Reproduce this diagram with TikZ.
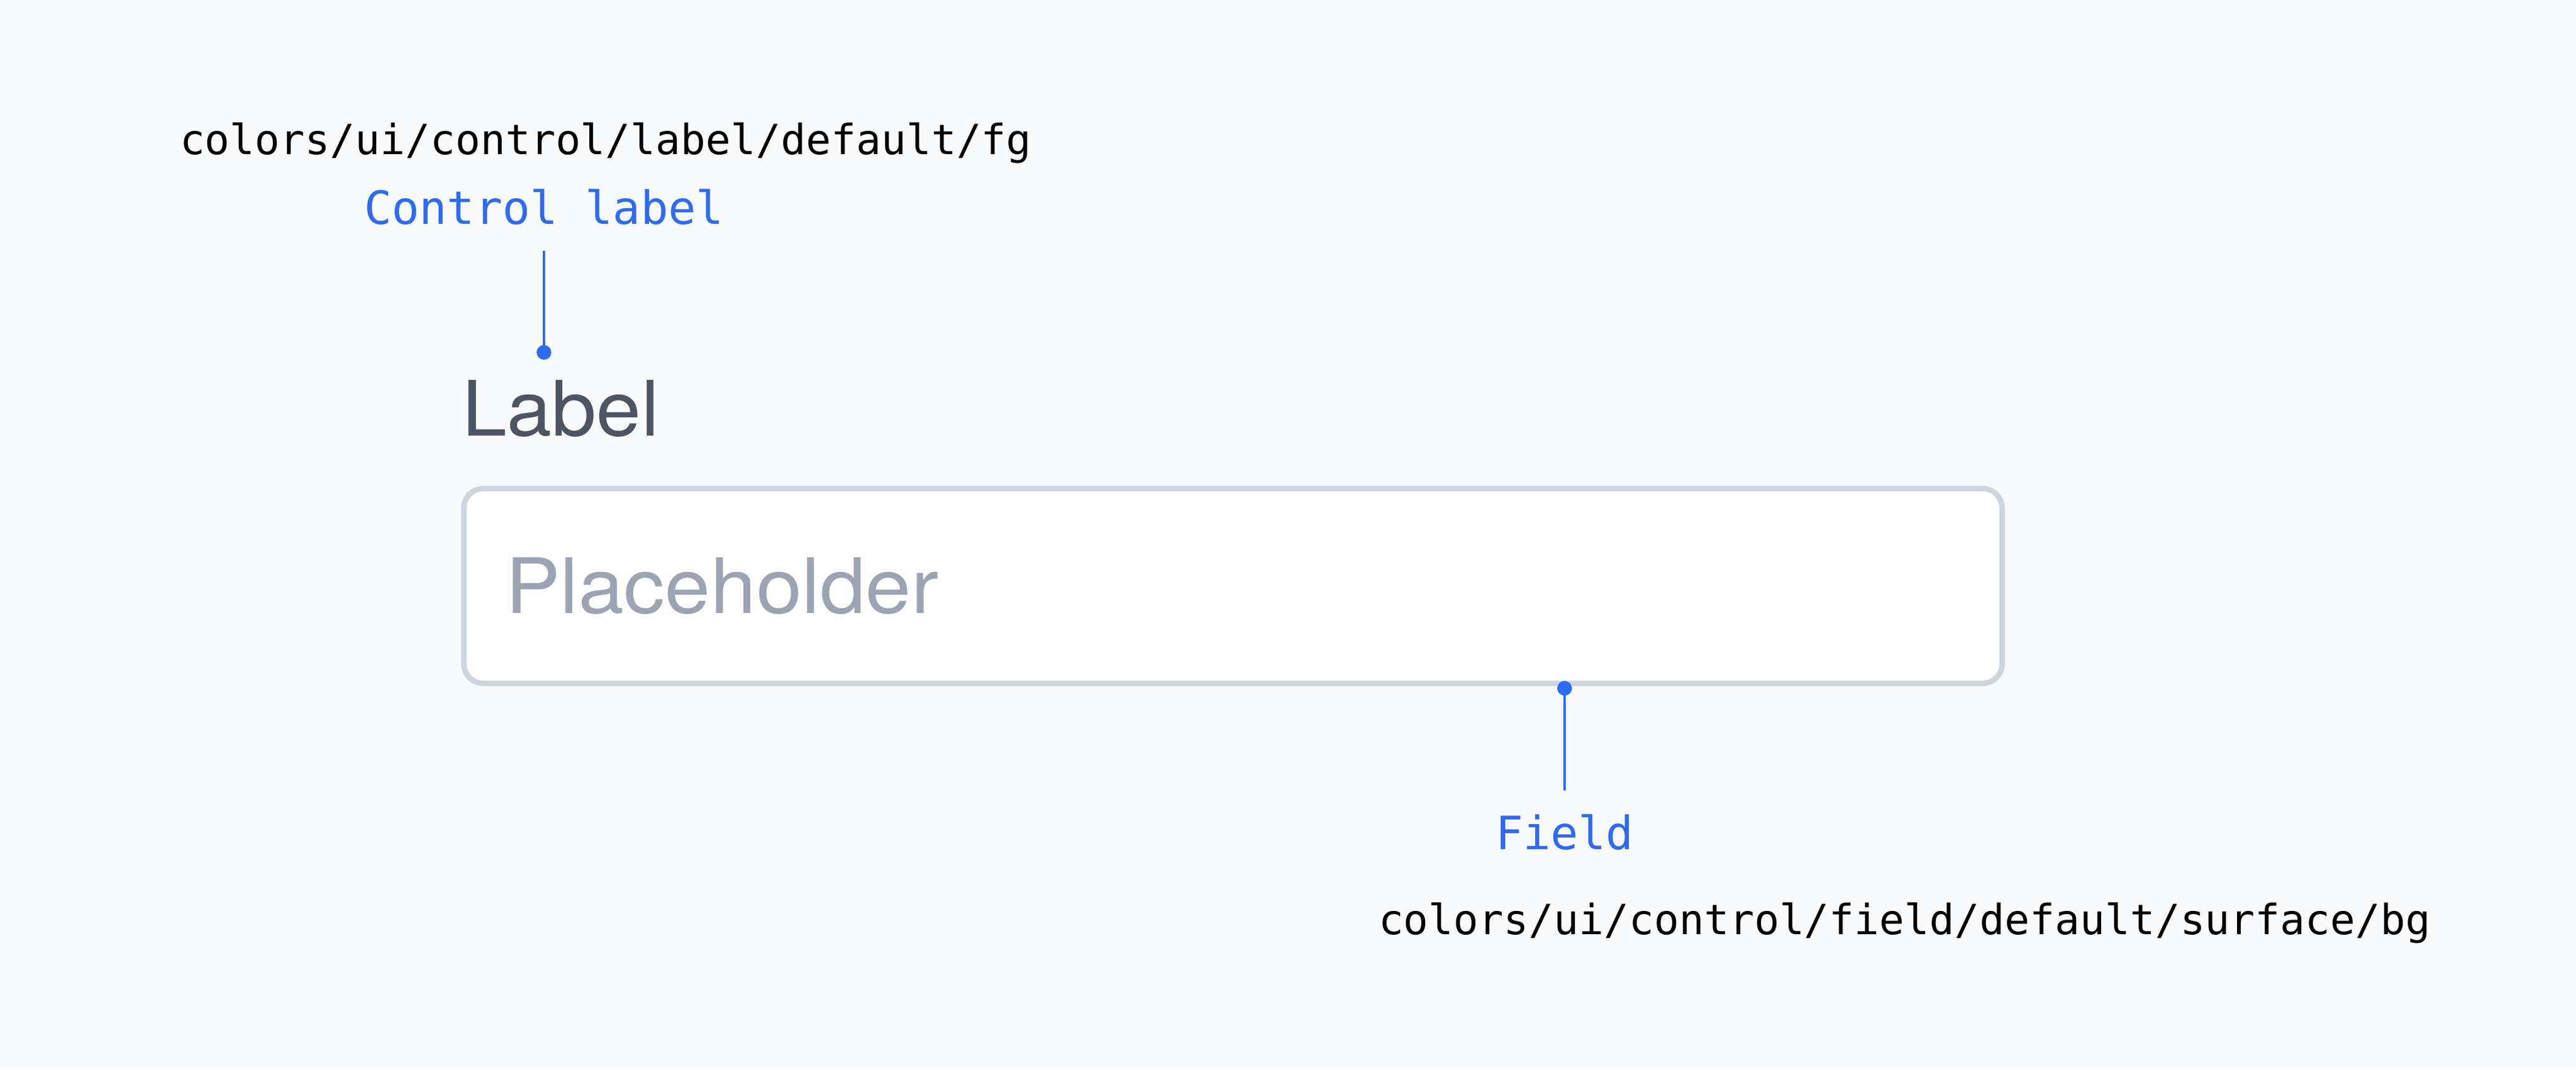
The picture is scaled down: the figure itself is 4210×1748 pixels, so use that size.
\documentclass[tikz,border=0pt]{standalone}
\usepackage{fontspec}
\usepackage{graphicx}
\setmainfont{TeX Gyre Heros}
\newfontfamily\monofont{DejaVu Sans Mono}
\definecolor{bgcol}{HTML}{F8FAFC}
\definecolor{bordercol}{HTML}{CDD5DF}
\definecolor{labelcol}{HTML}{4B5563}
\definecolor{phcol}{HTML}{9AA4B2}
\definecolor{accent}{HTML}{2D6BF2}
\begin{document}
\begin{tikzpicture}[x=0.2pt,y=-0.2pt,
  tokentext/.style={inner sep=0pt,font=\monofont\fontsize{13.6pt}{16pt}\selectfont,text=black},
  annot/.style={inner sep=0pt,font=\monofont\fontsize{15pt}{18pt}\selectfont,text=accent},
  uitext/.style={inner sep=0pt,font=\fontsize{25pt}{30pt}\selectfont},
  fieldbox/.style={draw=bordercol,line width=1.8pt,fill=white,rounded corners=6.4pt},
  dotnode/.style={circle,fill=accent,inner sep=0pt,minimum size=4.8pt},
  leader/.style={draw=accent,line width=0.7pt}]
\fill[bgcol] (0,0) rectangle (4210,1748);
\useasboundingbox (0,0) rectangle (4210,1748);
% field box
\draw[fieldbox] (758,798.5) rectangle (3272,1117);
\node[uitext,text=phcol,anchor=base west] (ph) at (825,1002.7) {\scalebox{1.073}[1]{Placeholder}};
\node[uitext,text=labelcol,anchor=base west] (lbl) at (754,712) {\scalebox{1.055}[1]{Label}};
% top annotation
\node[tokentext,anchor=base west] (tok1) at (293,252.6) {colors/ui/control/label/default/fg};
\node[annot,anchor=base] (cl) at (889,366) {Control label};
\coordinate (cltop) at (889,410);
\node[dotnode] (cldot) at (889,576) {};
\draw[leader] (cltop) -- (cldot.center);
% bottom annotation
\node[dotnode] (fdot) at (2557,1125) {};
\coordinate (fbot) at (2557,1292);
\draw[leader] (fdot.center) -- (fbot);
\node[annot,anchor=base] (fl) at (2557,1388.7) {Field};
\node[tokentext,anchor=base west] (tok2) at (2252,1527.6) {colors/ui/control/field/default/surface/bg};
\end{tikzpicture}
\end{document}
